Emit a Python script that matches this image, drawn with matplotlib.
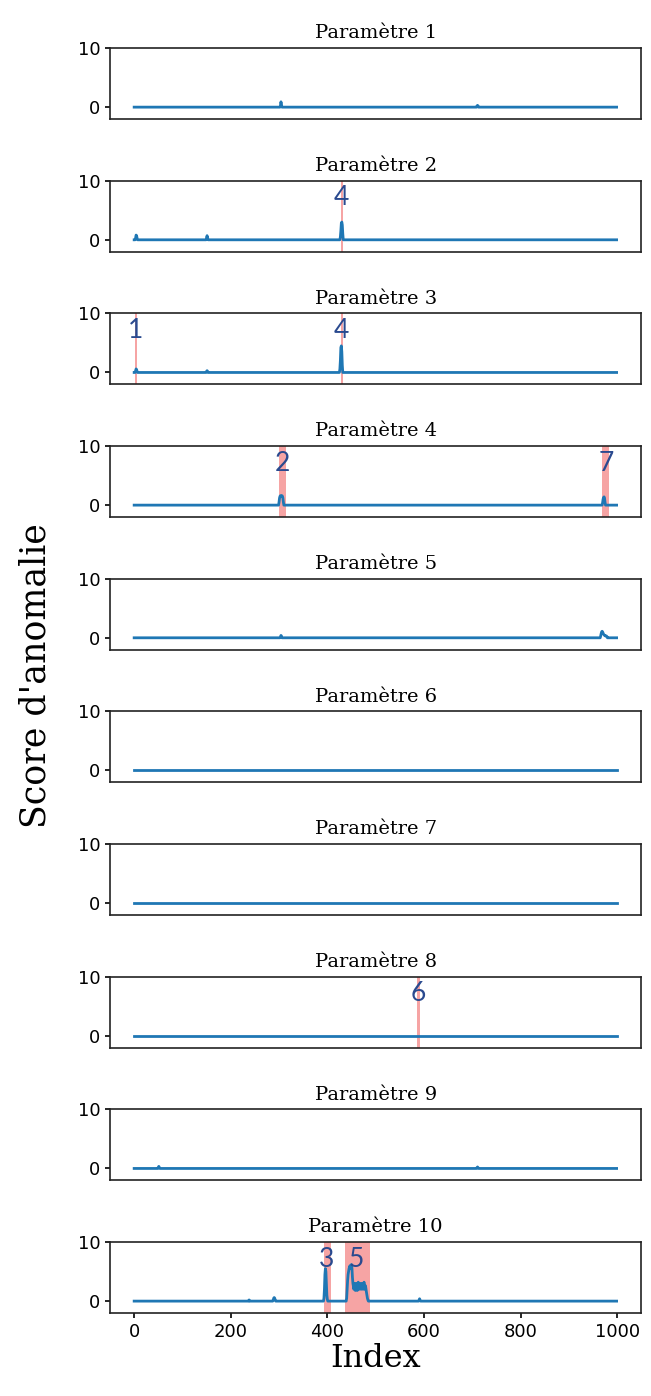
import numpy as np
import matplotlib
matplotlib.use("Agg")
import matplotlib.pyplot as plt

# ---------------- data ----------------
n_points = 1000
titles = [f"Paramètre {i}" for i in range(1, 11)]

# peaks per parameter: (start index, values)
peaks_p1 = [(303, [0.3, 0.9, 0.4]), (710, [0.2, 0.3, 0.2])]
peaks_p2 = [(3, [0.3, 0.8, 0.7, 0.3]), (150, [0.4, 0.7, 0.4]),
            (427, [0.5, 1.5, 2.8, 3.0, 2.5, 1.0])]
peaks_p3 = [(3, [0.3, 0.6, 0.5, 0.2]), (150, [0.2, 0.3, 0.2]),
            (426, [0.6, 2.0, 4.2, 4.5, 3.5, 1.2])]
peaks_p4 = [(300, [0.5, 1.2, 1.5, 1.6, 1.5, 1.5, 1.6, 1.5, 1.2, 0.5]),
            (970, [0.4, 1.0, 1.3, 1.4, 1.2, 0.5])]
peaks_p5 = [(303, [0.2, 0.4, 0.3]),
            (966, [0.3, 0.7, 1.0, 1.1, 1.0, 0.8, 0.6, 0.5, 0.4, 0.4, 0.3, 0.3, 0.3, 0.2])]
peaks_p6 = []
peaks_p7 = []
peaks_p8 = []
peaks_p9 = [(50, [0.2, 0.35, 0.2]), (710, [0.15, 0.25, 0.15])]
peaks_p10 = [(238, [0.2]), (288, [0.2, 0.5, 0.6, 0.5, 0.2]),
             (393, [0.5, 2.0, 4.5, 5.5, 5.0, 3.0, 1.0, 0.3]),
             (440, [0.5, 2.0, 3.5, 4.5, 5.0, 5.5, 5.8, 6.0, 5.5, 5.8, 6.2, 5.5, 4.0,
                    3.0, 2.5, 2.0, 3.0, 2.5, 1.8, 2.5, 3.0, 2.2, 1.8, 2.5, 3.2, 2.5,
                    2.0, 2.8, 3.0, 2.2, 2.0, 2.6, 3.0, 2.4, 2.0, 2.8, 3.2, 2.5, 2.0,
                    2.6, 2.0, 1.5, 1.0, 0.5, 0.2]),
             (590, [0.2, 0.4, 0.2])]
all_peaks = [peaks_p1, peaks_p2, peaks_p3, peaks_p4, peaks_p5,
             peaks_p6, peaks_p7, peaks_p8, peaks_p9, peaks_p10]

# anomaly regions: (panel index, start, end)
spans = [(1, 428, 433), (2, 1, 6), (2, 428, 433),
         (3, 300, 315), (3, 969, 983), (7, 586, 591),
         (9, 393, 407), (9, 436, 489)]
# anomaly labels: (panel index, x, label)
labels = [(1, 430, "4"), (2, 3, "1"), (2, 430, "4"),
          (3, 306, "2"), (3, 977, "7"), (7, 588, "6"),
          (9, 398, "3"), (9, 460, "5")]

x_ticks = [0, 200, 400, 600, 800, 1000]
y_ticks = [0, 10]

# ---------------- figure ----------------
fig = plt.figure(figsize=(6.51, 13.96), dpi=100)
gs = fig.add_gridspec(10, 1, left=0.169, right=0.985, top=0.9656,
                      bottom=0.0595, hspace=0.87)

idx = np.arange(n_points)
line_color = "#1f77b4"
span_color = "#f59a9a"
label_color = "#2a4a8f"

for i in range(10):
    ax = fig.add_subplot(gs[i, 0])
    y = np.zeros(n_points)
    for start, vals in all_peaks[i]:
        y[start:start + len(vals)] = vals
    for p, a, b in spans:
        if p == i:
            ax.axvspan(a, b, color=span_color, alpha=0.9, lw=0, zorder=1)
    ax.plot(idx, y, color=line_color, lw=2.0, zorder=3)
    for p, xv, lab in labels:
        if p == i:
            ax.text(xv, 9.2, lab, ha="center", va="top", fontsize=19,
                    family="Lato", color=label_color, zorder=4)
    ax.set_xlim(-50, 1050)
    ax.set_ylim(-2, 10)
    ax.set_yticks(y_ticks)
    ax.tick_params(axis="y", labelsize=13, width=1.2)
    ax.set_title(titles[i], family="DejaVu Serif", fontsize=14, pad=7)
    if i < 9:
        ax.set_xticks([])
    else:
        ax.set_xticks(x_ticks)
        ax.tick_params(axis="x", labelsize=13, width=1.2)
        ax.set_xlabel("Index", family="DejaVu Serif", fontsize=23, labelpad=2)
    for s in ax.spines.values():
        s.set_color("#222222")
        s.set_linewidth(1.2)

fig.text(0.055, 0.516, "Score d'anomalie", rotation=90, ha="center", va="center",
         family="DejaVu Serif", fontsize=25)

fig.savefig("out.png", dpi=100)
